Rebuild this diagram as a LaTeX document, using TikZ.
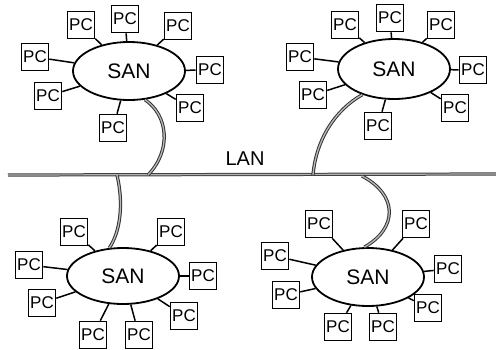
\documentclass[tikz,border=0pt]{standalone}
\usepackage{fontspec}
\setmainfont{Liberation Sans}
\usetikzlibrary{shapes.geometric}
\begin{document}
\begin{tikzpicture}[x=1pt,y=-1pt,
  pcbox/.style={draw, line width=1.6pt, minimum width=27pt, minimum height=27pt, inner sep=0pt, font=\fontsize{17}{17}\selectfont},
  san/.style={ellipse, draw, line width=1.8pt, minimum width=112pt, minimum height=58pt, inner sep=0pt, font=\fontsize{21}{21}\selectfont},
  link/.style={line width=1.5pt},
  cable/.style={line width=1pt, draw=black!80, double=gray!55, double distance=1.3pt},
  lanline/.style={line width=1pt, draw=black!75, double=gray!60, double distance=1.2pt}]
\path[use as bounding box] (0,0) rectangle (496,349);
% LAN
\coordinate (lanL) at (8,175);
\coordinate (lanR) at (496,174);
\draw[lanline] (lanL) -- (lanR);
\node[font=\fontsize{20}{20}\selectfont] (lanlabel) at (245,159) {LAN};
% SANs
\node[san] (s1) at (129,71) {SAN};
\node[san, minimum height=60pt] (s2) at (394,69) {SAN};
\node[san, minimum height=56pt] (s3) at (123,276) {SAN};
\node[san] (s4) at (368,277) {SAN};
% PCs
\foreach \n/\x/\y in {a/81/25, b/125/19, c/178/26, d/210/70, e/190/108, f/113/128, g/48/96, h/35/57}
  {\node[pcbox] (p1\n) at (\x,\y) {PC}; \draw[link] (s1) -- (p1\n);}
\foreach \n/\x/\y in {a/345/25, b/390/18, c/441/25, d/473/70, e/455/108, f/378/126, g/313/95, h/300/57}
  {\node[pcbox] (p2\n) at (\x,\y) {PC}; \draw[link] (s2) -- (p2\n);}
\foreach \n/\x/\y in {a/74/232, b/171/232, c/203/276, d/184/316, e/139/335, f/93/335, g/42/303, h/29/265}
  {\node[pcbox] (p3\n) at (\x,\y) {PC}; \draw[link] (s3) -- (p3\n);}
\foreach \n/\x/\y in {a/319/224, b/416/224, c/448/269, d/428/308, e/383/327, f/338/327, g/286/295, h/275/256}
  {\node[pcbox] (p4\n) at (\x,\y) {PC}; \draw[link] (s4) -- (p4\n);}
% cables to LAN
\coordinate (lan1) at (148,175);
\coordinate (lan2) at (313,175);
\coordinate (lan3) at (117,175);
\coordinate (lan4) at (362,176);
\draw[cable] (s1.-61) .. controls (168,115) and (172,150) .. (lan1);
\draw[cable] (s2.-141) .. controls (335,110) and (316,140) .. (lan2);
\draw[cable] (lan3) .. controls (124,205) and (120,232) .. (s3.116);
\draw[cable] (lan4) .. controls (398,195) and (398,228) .. (s4.97);
\end{tikzpicture}
\end{document}
